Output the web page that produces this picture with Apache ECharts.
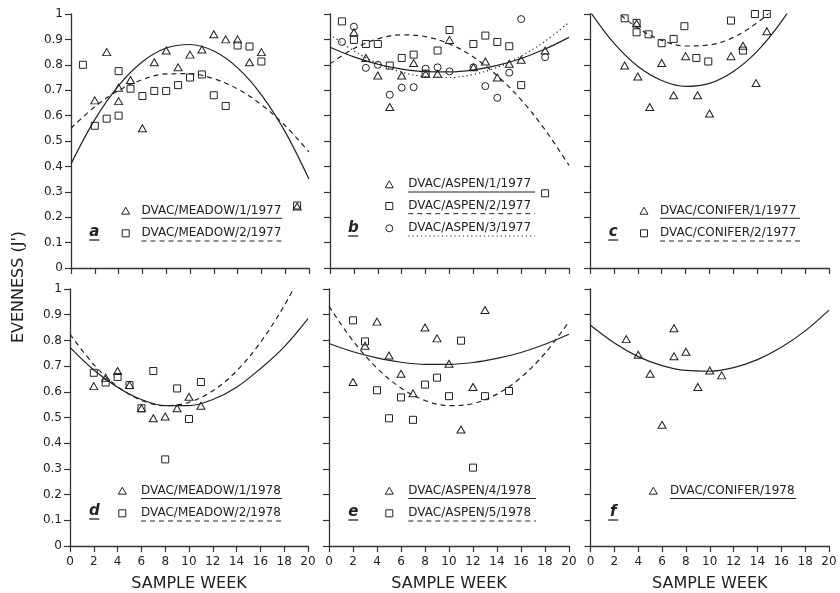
<!DOCTYPE html>
<html>
<head>
<meta charset="utf-8">
<script src="https://cdn.jsdelivr.net/npm/echarts@6/dist/echarts.min.js"></script>
<style>
html,body{margin:0;padding:0;background:#fff;}
#chart{width:840px;height:593px;}
</style>
</head>
<body>
<div id="chart"></div>
<script>
// ---- tick / axis data ----
const weekTicks = [0, 2, 4, 6, 8, 10, 12, 14, 16, 18, 20];
const curveWeeks = [0, 2, 4, 6, 8, 10, 12, 14, 16, 18, 20];

// ---- panel a : meadow 1977 ----
const aMeadow1 = [[2,0.66],[3,0.85],[4,0.71],[4,0.657],[5,0.74],[6,0.55],[7,0.81],[8,0.856],[9,0.79],[10,0.84],[11,0.86],[12,0.92],[13,0.90],[14,0.90],[15,0.81],[16,0.85],[19,0.242]];
const aMeadow2 = [[1,0.80],[2,0.56],[3,0.588],[4,0.775],[4,0.60],[5,0.706],[6,0.677],[7,0.697],[8,0.697],[9,0.72],[10,0.75],[11,0.762],[12,0.68],[13,0.638],[14,0.876],[15,0.872],[16,0.813],[19,0.246]];
const aFit1 = [0.41,0.584,0.718,0.812,0.866,0.88,0.854,0.788,0.682,0.536,0.35];
const aFit2 = [0.55,0.635,0.699,0.742,0.764,0.765,0.745,0.705,0.643,0.56,0.457];

// ---- panel b : aspen 1977 ----
const bAspen1 = [[2,0.928],[3,0.827],[4,0.758],[5,0.634],[6,0.758],[7,0.807],[8,0.765],[9,0.765],[10,0.898],[12,0.79],[13,0.813],[14,0.75],[15,0.804],[16,0.82],[18,0.856]];
const bAspen2 = [[1,0.971],[2,0.898],[3,0.882],[4,0.882],[5,0.797],[6,0.827],[7,0.84],[8,0.765],[9,0.856],[10,0.937],[12,0.882],[13,0.915],[14,0.89],[15,0.873],[16,0.72],[18,0.294]];
const bAspen3 = [[1,0.89],[2,0.95],[3,0.788],[4,0.80],[5,0.682],[6,0.71],[7,0.712],[8,0.785],[9,0.79],[10,0.774],[12,0.79],[13,0.716],[14,0.67],[15,0.769],[16,0.98],[18,0.83]];
const bFit1 = [0.869,0.831,0.802,0.783,0.773,0.772,0.780,0.798,0.825,0.862,0.908];
const bFit2 = [0.804,0.864,0.902,0.918,0.911,0.882,0.831,0.757,0.662,0.544,0.404];
const bFit3 = [0.92,0.855,0.805,0.771,0.753,0.750,0.762,0.790,0.834,0.893,0.967];

// ---- panel c : conifer 1977 ----
const cConifer1 = [[2.9,0.797],[4.0,0.754],[3.9,0.962],[5.0,0.634],[6.0,0.807],[7.0,0.68],[8.0,0.834],[9.0,0.68],[10.0,0.608],[11.8,0.834],[12.8,0.875],[13.9,0.728],[14.8,0.932]];
const cConifer2 = [[2.9,0.983],[3.9,0.965],[3.9,0.928],[4.9,0.92],[6.0,0.885],[7.0,0.902],[7.9,0.952],[8.9,0.827],[9.9,0.813],[11.8,0.974],[12.8,0.856],[13.8,1.0],[14.8,1.0]];
const cFit1 = [1.01,0.885,0.794,0.738,0.715,0.727,0.774,0.854,0.969,1.118,1.30];
const cFit2 = [1.124,1.02,0.945,0.896,0.874,0.878,0.908,0.966,1.05,1.16,1.29];

// ---- panel d : meadow 1978 ----
const dMeadow1 = [[2,0.622],[3,0.655],[4,0.681],[5,0.626],[6,0.536],[7,0.497],[8,0.504],[9,0.536],[10,0.581],[11,0.546]];
const dMeadow2 = [[2,0.674],[3,0.636],[4,0.658],[5,0.626],[6,0.536],[7,0.681],[8,0.337],[9,0.613],[10,0.494],[11,0.638]];
const dFit1 = [0.773,0.685,0.618,0.570,0.546,0.546,0.570,0.618,0.690,0.775,0.885];
const dFit2 = [0.824,0.706,0.620,0.567,0.546,0.559,0.604,0.681,0.792,0.935,1.11];

// ---- panel e : aspen 1978 ----
const eAspen4 = [[2,0.638],[3,0.779],[4,0.873],[5,0.741],[6,0.67],[7,0.594],[8,0.85],[9,0.808],[10,0.709],[11,0.453],[12,0.619],[13,0.918]];
const eAspen5 = [[2,0.878],[3,0.796],[4,0.606],[5,0.497],[6,0.578],[7,0.491],[8,0.628],[9,0.655],[10,0.583],[11,0.799],[12,0.305],[13,0.583],[15,0.603]];
const eFit1 = [0.788,0.756,0.732,0.715,0.707,0.707,0.714,0.730,0.753,0.785,0.824];
const eFit2 = [0.933,0.798,0.692,0.615,0.566,0.546,0.554,0.591,0.656,0.750,0.873];

// ---- panel f : conifer 1978 ----
const fConifer = [[3,0.805],[4,0.744],[5,0.67],[6,0.472],[7,0.847],[7,0.738],[8,0.756],[9,0.619],[10,0.683],[11,0.664]];
const fFit1 = [0.859,0.790,0.737,0.702,0.683,0.680,0.694,0.725,0.773,0.837,0.918];

// ---- legend labels ----
const legendLabels = {
  a: ['DVAC/MEADOW/1/1977', 'DVAC/MEADOW/2/1977'],
  b: ['DVAC/ASPEN/1/1977', 'DVAC/ASPEN/2/1977', 'DVAC/ASPEN/3/1977'],
  c: ['DVAC/CONIFER/1/1977', 'DVAC/CONIFER/2/1977'],
  d: ['DVAC/MEADOW/1/1978', 'DVAC/MEADOW/2/1978'],
  e: ['DVAC/ASPEN/4/1978', 'DVAC/ASPEN/5/1978'],
  f: ['DVAC/CONIFER/1978']
};

const INK = '#222';
const FONT = 'DejaVu Sans';
const DASH = [5, 4];
const DOT = [1.2, 3];

const grids = [
  {left: 71, top: 14, width: 238, height: 254},
  {left: 330, top: 14, width: 239, height: 254},
  {left: 590, top: 14, width: 239, height: 254},
  {left: 70, top: 289, width: 238, height: 261},
  {left: 329, top: 289, width: 240, height: 261},
  {left: 590.5, top: 289, width: 238.5, height: 261}
];

const xAxes = grids.map((g, i) => ({
  type: 'value', gridIndex: i, min: 0, max: 20, interval: 2,
  axisLine: {lineStyle: {color: '#333', width: 1.3}},
  axisTick: {show: true, length: 6, lineStyle: {color: '#333', width: 1.2}},
  splitLine: {show: false},
  axisLabel: {show: i >= 3, fontSize: 12, color: INK, fontFamily: FONT, margin: 10},
  name: i >= 3 ? 'SAMPLE WEEK' : '',
  nameLocation: 'middle', nameGap: 30,
  nameTextStyle: {fontSize: 16, color: INK, fontFamily: FONT}
}));

const yAxes = grids.map((g, i) => ({
  type: 'value', gridIndex: i, min: 0, max: 1, interval: 0.1,
  axisLine: {show: true, lineStyle: {color: '#333', width: 1.3}},
  axisTick: {show: true, length: 6, lineStyle: {color: '#333', width: 1.2}},
  splitLine: {show: false},
  axisLabel: {show: i === 0 || i === 3, fontSize: 12, color: INK, fontFamily: FONT, margin: 8}
}));

function pts(sym, size, data, gi) {
  return {
    type: 'scatter', xAxisIndex: gi, yAxisIndex: gi, data: data,
    symbol: sym, symbolSize: size, clip: false, silent: true,
    itemStyle: {color: 'rgba(0,0,0,0)', borderColor: INK, borderWidth: 1, opacity: 1}
  };
}
function fit(vals, dash, gi) {
  return {
    type: 'line', xAxisIndex: gi, yAxisIndex: gi, smooth: 0.35, showSymbol: false,
    silent: true, clip: true,
    data: curveWeeks.map((w, k) => [w, vals[k]]),
    lineStyle: {color: INK, width: 1.2, type: dash || 'solid'}
  };
}
const TRI = [8, 7], SQ = 7, CI = 7;

const series = [
  pts('triangle', TRI, aMeadow1, 0), pts('rect', SQ, aMeadow2, 0),
  fit(aFit1, 'solid', 0), fit(aFit2, DASH, 0),
  pts('triangle', TRI, bAspen1, 1), pts('rect', SQ, bAspen2, 1), pts('circle', CI, bAspen3, 1),
  fit(bFit1, 'solid', 1), fit(bFit2, DASH, 1), fit(bFit3, DOT, 1),
  pts('triangle', TRI, cConifer1, 2), pts('rect', SQ, cConifer2, 2),
  fit(cFit1, 'solid', 2), fit(cFit2, DASH, 2),
  pts('triangle', TRI, dMeadow1, 3), pts('rect', SQ, dMeadow2, 3),
  fit(dFit1, 'solid', 3), fit(dFit2, DASH, 3),
  pts('triangle', TRI, eAspen4, 4), pts('rect', SQ, eAspen5, 4),
  fit(eFit1, 'solid', 4), fit(eFit2, DASH, 4),
  pts('triangle', TRI, fConifer, 5),
  fit(fFit1, 'solid', 5)
];

// ---- legend graphics ----
const graphic = [];
function symG(kind, x, y) {
  const st = {fill: 'none', stroke: INK, lineWidth: 1};
  if (kind === 'tri') graphic.push({type: 'polygon', shape: {points: [[x, y - 3.5], [x - 4, y + 3.5], [x + 4, y + 3.5]]}, style: st, silent: true});
  else if (kind === 'sq') graphic.push({type: 'rect', shape: {x: x - 3.5, y: y - 3.5, width: 7, height: 7}, style: st, silent: true});
  else graphic.push({type: 'circle', shape: {cx: x, cy: y, r: 3.5}, style: st, silent: true});
}
function entry(kind, sx, tx, tEnd, y, uy, dash, label) {
  symG(kind, sx, y);
  graphic.push({type: 'text', x: tx, y: y, silent: true,
    style: {text: label, fontSize: 12, fontFamily: FONT, fill: INK, align: 'left', verticalAlign: 'middle'}});
  graphic.push({type: 'line', silent: true, shape: {x1: tx, y1: uy, x2: tEnd, y2: uy},
    style: {stroke: INK, lineWidth: 1, lineDash: dash}});
}
function letter(ch, x, y) {
  graphic.push({type: 'text', x: x, y: y, silent: true,
    style: {text: ch, fontSize: 15, fontStyle: 'italic', fontWeight: 'bold', fontFamily: FONT, fill: INK, align: 'center', verticalAlign: 'middle'}});
  graphic.push({type: 'line', silent: true, shape: {x1: x - 5, y1: y + 8, x2: x + 5, y2: y + 8},
    style: {stroke: INK, lineWidth: 1.3}});
}
// a
entry('tri', 125.7, 141.5, 282, 210.7, 218.3, null, legendLabels.a[0]);
entry('sq', 125.7, 141.5, 282, 233.3, 241, DASH, legendLabels.a[1]);
letter('a', 94.3, 232);
// b
entry('tri', 389.3, 408.3, 535, 184.3, 192, null, legendLabels.b[0]);
entry('sq', 389.3, 408.3, 535, 206, 213.7, DASH, legendLabels.b[1]);
entry('circle', 389.3, 408.3, 535, 228.3, 236, DOT, legendLabels.b[2]);
letter('b', 353.3, 228);
// c
entry('tri', 644, 660, 800, 210.7, 218.3, null, legendLabels.c[0]);
entry('sq', 644, 660, 800, 233.3, 241, DASH, legendLabels.c[1]);
letter('c', 613.3, 232);
// d
entry('tri', 122.3, 141, 282, 490.7, 498.5, null, legendLabels.d[0]);
entry('sq', 122.3, 141, 282, 513.3, 521, DASH, legendLabels.d[1]);
letter('d', 94.3, 511);
// e
entry('tri', 389.3, 408.3, 536, 490.7, 498.5, null, legendLabels.e[0]);
entry('sq', 389.3, 408.3, 536, 513.3, 521, DASH, legendLabels.e[1]);
letter('e', 353.3, 512);
// f
entry('tri', 653.3, 670, 796, 490.7, 498.5, null, legendLabels.f[0]);
letter('f', 613.3, 512);
// y title
graphic.push({type: 'text', x: 19, y: 287, rotation: Math.PI / 2, silent: true,
  style: {text: "EVENNESS (J')", fontSize: 16, fontFamily: FONT, fill: INK, align: 'center', verticalAlign: 'middle'}});

const chart = echarts.init(document.getElementById('chart'), null, {renderer: 'canvas'});
chart.setOption({
  backgroundColor: '#fff',
  animation: false,
  grid: grids,
  xAxis: xAxes,
  yAxis: yAxes,
  series: series,
  graphic: graphic
});
</script>
</body>
</html>
